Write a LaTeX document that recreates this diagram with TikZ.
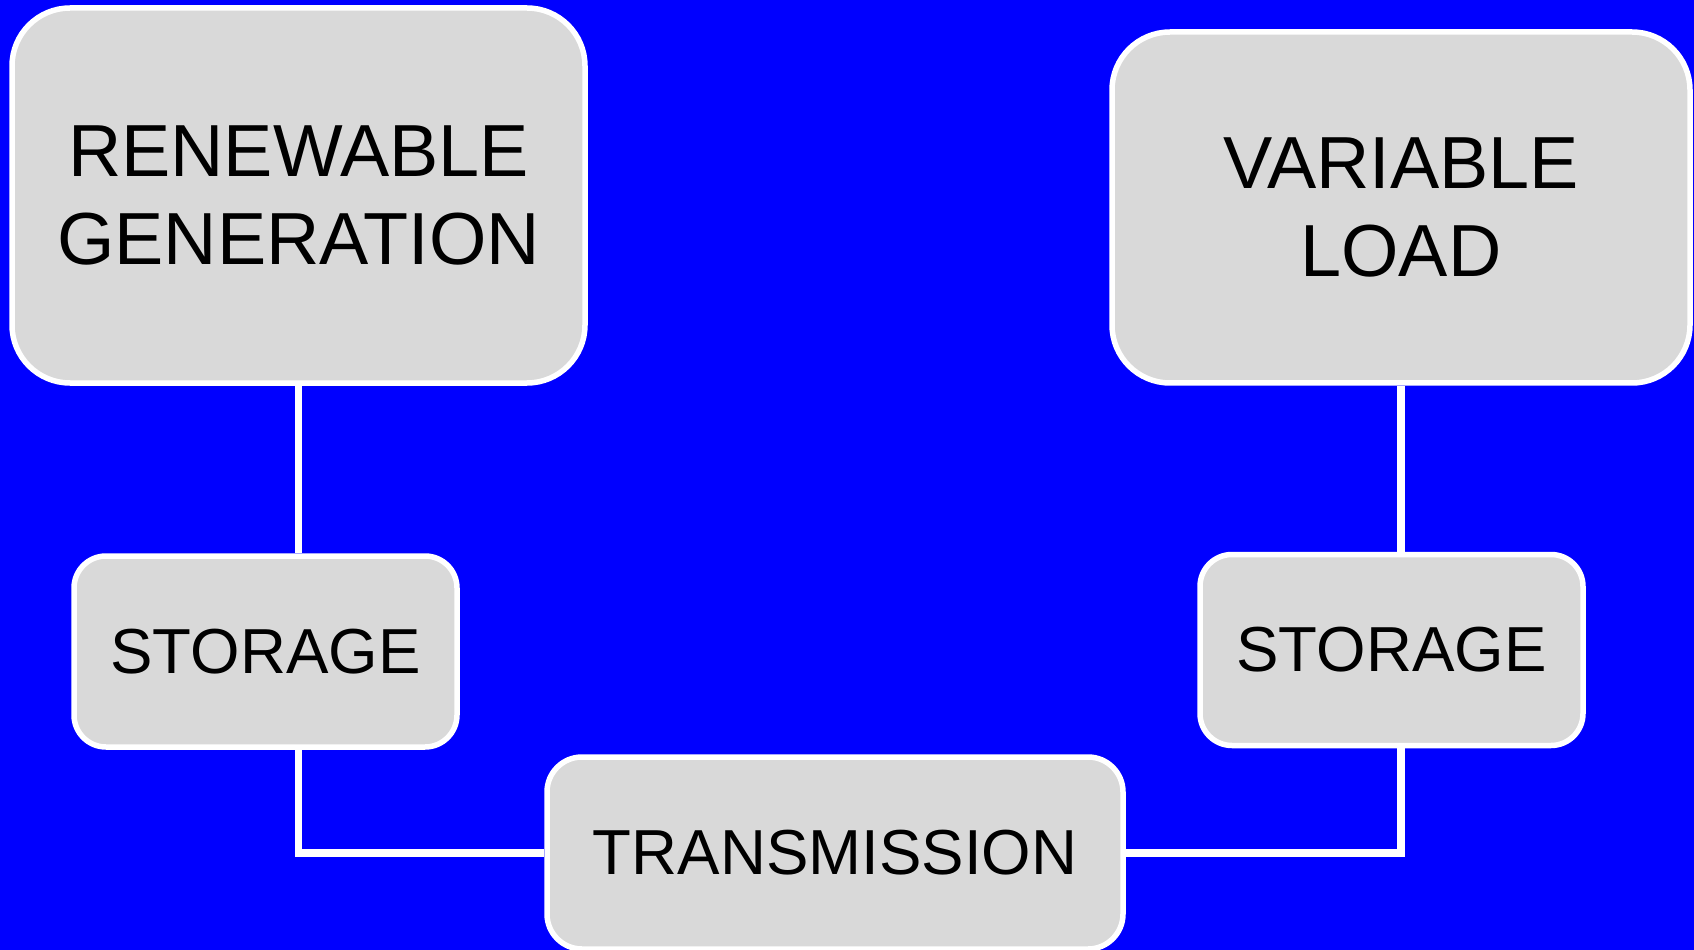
\documentclass[tikz,border=0pt]{standalone}
\usepackage{fontspec}
\setmainfont{Liberation Sans}
\usepackage{xcolor}
\usepackage{tikz}
\definecolor{bgblue}{HTML}{0000FF}
\definecolor{boxgray}{HTML}{D9D9D9}

\begin{document}
\begin{tikzpicture}[
    block/.style={draw=white, line width=0.55mm, fill=boxgray, align=center, inner sep=0pt},
    bigblock/.style={block, rounded corners=5.8mm, font=\fontsize{21}{25.3}\selectfont},
    smallblock/.style={block, rounded corners=3.2mm, minimum width=3.83cm, minimum height=1.91cm, font=\fontsize{18.1}{22}\selectfont},
    link/.style={draw=white, line width=0.75mm}]
                        \useasboundingbox (0,0) rectangle (16.94,-9.5);
                        \fill[bgblue] (0,0) rectangle (16.94,-9.5);
                        % top row
                        \node[bigblock, minimum width=5.73cm, minimum height=3.75cm] (gen) at (2.985,-1.955) {RENEWABLE\\GENERATION};
                        \node[bigblock, minimum width=5.78cm, minimum height=3.51cm] (load) at (14.01,-2.075) {VARIABLE\\LOAD};
                        % storage and transmission
                        \node[smallblock] (storeL) at (2.655,-6.515) {STORAGE};
                        \node[smallblock] (storeR) at (13.915,-6.50) {STORAGE};
                        \node[smallblock, rounded corners=3.5mm, minimum width=5.76cm, minimum height=1.92cm] (trans) at (8.35,-8.53) {TRANSMISSION};
                        % connectors
                        \draw[link] (gen.south) -- (gen.south |- storeL.north);
                        \draw[link] (gen.south |- storeL.south) |- (trans.west);
                        \draw[link] (load.south) -- (load.south |- storeR.north);
                        \draw[link] (trans.east) -| (load.south |- storeR.south);
                    \end{tikzpicture}
\end{document}
